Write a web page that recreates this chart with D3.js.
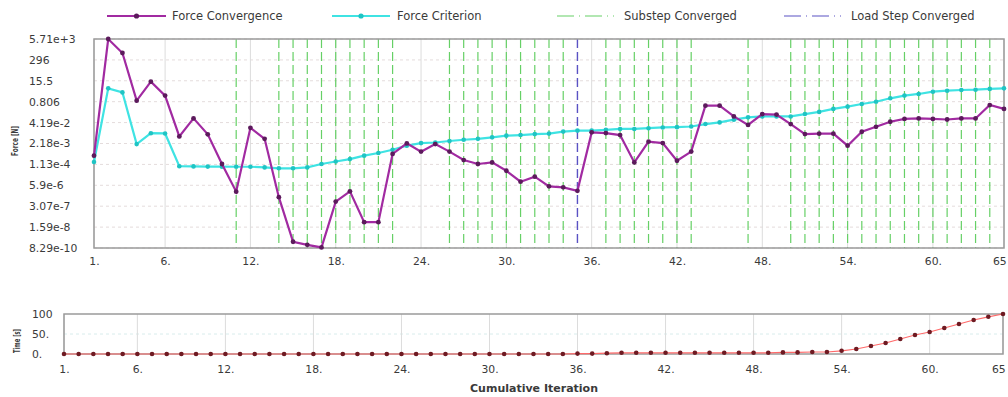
<!DOCTYPE html>
<html>
<head>
<meta charset="utf-8">
<script src="https://cdn.jsdelivr.net/npm/d3@7"></script>
<style>
  html, body { margin: 0; padding: 0; background: #fff; }
  svg { display: block; font-family: "DejaVu Sans", sans-serif; }
</style>
</head>
<body>
<svg id="chart" width="1008" height="397"></svg>
<script>
// Solver convergence history, one entry per cumulative iteration
const iterations = d3.range(1, 66);

const forceConvergence = [
  3.9e-4, 5710, 789, 0.93, 13.7, 1.9, 5.9e-3, 0.076, 8e-3, 1.2e-4,
  2.4e-6, 0.02, 4.2e-3, 1.1e-6, 2e-9, 1.3e-9, 9e-10, 5.9e-7, 2.5e-6, 3.2e-8,
  3.2e-8, 5e-4, 2.2e-3, 6.9e-4, 2e-3, 6.9e-4, 2.1e-4, 1.2e-4, 1.5e-4, 4.6e-5,
  9.8e-6, 2e-5, 5.1e-6, 4.4e-6, 2.7e-6, 1.05e-2, 9.5e-3, 7.2e-3, 1.5e-4, 2.8e-3,
  2.3e-3, 1.9e-4, 6.9e-4, 0.46, 0.46, 0.1, 0.03, 0.14, 0.13, 0.034,
  8.3e-3, 8.7e-3, 8.7e-3, 1.6e-3, 0.0115, 0.023, 0.047, 0.07, 0.075, 0.07,
  0.065, 0.075, 0.075, 0.5, 0.29
];

const forceCriterion = [
  1.6e-4, 5.3, 3, 2e-3, 9.3e-3, 9e-3, 8.7e-5, 8.5e-5, 8.3e-5, 8.2e-5,
  8.1e-5, 8.1e-5, 7.4e-5, 6.5e-5, 6.5e-5, 7.4e-5, 1.2e-4, 1.7e-4, 2.4e-4, 3.9e-4,
  5.7e-4, 9e-4, 1.6e-3, 2.3e-3, 2.5e-3, 3.1e-3, 3.7e-3, 4.2e-3, 5.2e-3, 6.6e-3,
  7.2e-3, 8.2e-3, 8.8e-3, 0.0117, 0.0135, 0.0135, 0.015, 0.017, 0.017, 0.019,
  0.021, 0.022, 0.024, 0.034, 0.043, 0.063, 0.088, 0.1, 0.1, 0.1,
  0.14, 0.19, 0.29, 0.4, 0.58, 0.8, 1.3, 1.9, 2.4, 3.3,
  3.8, 4.2, 4.4, 4.9, 5.3
];

const timeValues = [
  0, 0, 0, 0, 0, 0, 0, 0, 0, 0,
  0, 0, 0, 0, 0, 0, 0, 0, 0, 0,
  0, 0, 0, 0, 0, 0, 0, 0, 0, 0,
  0, 0, 0, 0, 0, 1, 1, 2, 3, 3,
  3, 3, 3, 3, 3, 3, 3, 3, 3, 4,
  4, 5, 5, 8, 12.5, 20, 27.5, 37.5, 47.5, 55,
  65, 75, 85, 93, 100
];

// Iterations where a substep / the load step converged
const substepConverged = [11, 14, 15, 16, 17, 18, 19, 20, 21, 22,
  26, 27, 28, 29, 30, 31, 32, 33, 34, 37, 38, 39, 40, 41, 42, 43, 47,
  50, 51, 52, 53, 54, 55, 56, 57, 58, 59, 60, 61, 62, 63, 64];
const loadStepConverged = [35];

const xTickValues = [1, 6, 12, 18, 24, 30, 36, 42, 48, 54, 60, 65];
const xTickLabels = ["1.", "6.", "12.", "18.", "24.", "30.", "36.", "42.", "48.", "54.", "60.", "65"];

const forceTickValues = [5710, 296, 15.5, 0.806, 4.19e-2, 2.18e-3, 1.13e-4, 5.9e-6, 3.07e-7, 1.59e-8, 8.29e-10];
const forceTickLabels = ["5.71e+3", "296", "15.5", "0.806", "4.19e-2", "2.18e-3", "1.13e-4", "5.9e-6", "3.07e-7", "1.59e-8", "8.29e-10"];

const timeTickValues = [0, 50, 100];
const timeTickLabels = ["0.", "50.", "100"];

const legendItems = ["Force Convergence", "Force Criterion", "Substep Converged", "Load Step Converged"];

// ---------------------------------------------------------------
const svg = d3.select("#chart");
const textColor = "#3a3a3a";
const tickFont = "10.8px";
const convColor = "#a12aa1", convMarker = "#5c1a5c";
const critColor = "#3fe3e3", critMarker = "#1fc4c4";
const subColor = "#66d066", loadColor = "#5a52c4";

// tick labels are left-aligned in a column left of each panel
function styleAxis(a, leftX) {
  a.select(".domain").remove();
  a.selectAll("text").attr("fill", textColor).style("font-size", tickFont)
    .style("font-family", "DejaVu Sans, sans-serif");
  if (leftX !== undefined) {
    a.selectAll(".tick text").attr("text-anchor", "start").attr("x", leftX);
  }
}
// keep the last x label inside the page
function pinLastLabel(a) {
  a.selectAll(".tick text").filter((d, i, n) => i === n.length - 1)
    .attr("text-anchor", "end").attr("dx", "0.2em");
}

// Upper panel: force (log scale)
const upper = { left: 94, right: 1004, top: 39, bottom: 248 };
const x1 = d3.scaleLinear().domain([1, 65]).range([upper.left, upper.right]);
const y1 = d3.scaleLog().domain([8.29e-10, 5710]).range([upper.bottom, upper.top]);

const g1 = svg.append("g");

// horizontal grid
g1.append("g").selectAll("line").data(forceTickValues).join("line")
  .attr("x1", upper.left).attr("x2", upper.right)
  .attr("y1", d => y1(d)).attr("y2", d => y1(d))
  .attr("stroke", "#e4dcdc").attr("stroke-dasharray", "3,3");

// vertical grid
g1.append("g").selectAll("line").data(xTickValues).join("line")
  .attr("x1", d => x1(d)).attr("x2", d => x1(d))
  .attr("y1", upper.top).attr("y2", upper.bottom)
  .attr("stroke", "#dcdcdc");

// substep markers
g1.append("g").selectAll("line").data(substepConverged).join("line")
  .attr("x1", d => x1(d)).attr("x2", d => x1(d))
  .attr("y1", upper.top).attr("y2", upper.bottom)
  .attr("stroke", subColor).attr("stroke-width", 1.2).attr("stroke-dasharray", "9,4");

// load step markers
g1.append("g").selectAll("line").data(loadStepConverged).join("line")
  .attr("x1", d => x1(d)).attr("x2", d => x1(d))
  .attr("y1", upper.top).attr("y2", upper.bottom)
  .attr("stroke", loadColor).attr("stroke-width", 1.4).attr("stroke-dasharray", "9,4");

// frame
g1.append("rect")
  .attr("x", upper.left).attr("y", upper.top)
  .attr("width", upper.right - upper.left).attr("height", upper.bottom - upper.top)
  .attr("fill", "none").attr("stroke", "#9a9a9a").attr("stroke-width", 1.5);

const line1 = d3.line().x((d, i) => x1(iterations[i])).y(d => y1(d));

g1.append("path").datum(forceCriterion)
  .attr("d", line1).attr("fill", "none")
  .attr("stroke", critColor).attr("stroke-width", 2.2);
g1.append("g").selectAll("circle").data(forceCriterion).join("circle")
  .attr("cx", (d, i) => x1(iterations[i])).attr("cy", d => y1(d))
  .attr("r", 2.3).attr("fill", critMarker);

g1.append("path").datum(forceConvergence)
  .attr("d", line1).attr("fill", "none")
  .attr("stroke", convColor).attr("stroke-width", 2.2);
g1.append("g").selectAll("circle").data(forceConvergence).join("circle")
  .attr("cx", (d, i) => x1(iterations[i])).attr("cy", d => y1(d))
  .attr("r", 2.4).attr("fill", convMarker);

// axes
const xAxis1 = d3.axisBottom(x1).tickValues(xTickValues)
  .tickFormat((d, i) => xTickLabels[i]).tickSize(0).tickPadding(9);
const ax1 = g1.append("g").attr("transform", `translate(0,${upper.bottom})`).call(xAxis1);
const yAxis1 = d3.axisLeft(y1).tickValues(forceTickValues)
  .tickFormat((d, i) => forceTickLabels[i]).tickSize(0);
const ay1 = g1.append("g").attr("transform", `translate(${upper.left},0)`).call(yAxis1);
styleAxis(ax1);
styleAxis(ay1, 29 - upper.left);
pinLastLabel(ax1);

g1.append("text")
  .attr("transform", `translate(18,141) rotate(-90)`)
  .attr("text-anchor", "middle").attr("fill", textColor)
  .style("font-size", "8px").style("font-weight", "bold")
  .attr("textLength", 30).attr("lengthAdjust", "spacingAndGlyphs")
  .text("Force [N]");

// Lower panel: time
const lower = { left: 64, right: 1003, top: 314, bottom: 354 };
const x2 = d3.scaleLinear().domain([1, 65]).range([lower.left, lower.right]);
const y2 = d3.scaleLinear().domain([0, 100]).range([lower.bottom, lower.top]);
const g2 = svg.append("g");

g2.append("g").selectAll("line").data([50]).join("line")
  .attr("x1", lower.left).attr("x2", lower.right)
  .attr("y1", d => y2(d)).attr("y2", d => y2(d))
  .attr("stroke", "#d8ecec").attr("stroke-dasharray", "3,3");
g2.append("g").selectAll("line").data(xTickValues).join("line")
  .attr("x1", d => x2(d)).attr("x2", d => x2(d))
  .attr("y1", lower.top).attr("y2", lower.bottom)
  .attr("stroke", "#dcdcdc");
g2.append("rect")
  .attr("x", lower.left).attr("y", lower.top)
  .attr("width", lower.right - lower.left).attr("height", lower.bottom - lower.top)
  .attr("fill", "none").attr("stroke", "#9a9a9a").attr("stroke-width", 1.5);

const line2 = d3.line().x((d, i) => x2(iterations[i])).y(d => y2(d));
g2.append("path").datum(timeValues)
  .attr("d", line2).attr("fill", "none")
  .attr("stroke", "#ff6a6a").attr("stroke-width", 1.2);
g2.append("g").selectAll("circle").data(timeValues).join("circle")
  .attr("cx", (d, i) => x2(iterations[i])).attr("cy", d => y2(d))
  .attr("r", 2.3).attr("fill", "#6e1a22");

const xAxis2 = d3.axisBottom(x2).tickValues(xTickValues)
  .tickFormat((d, i) => xTickLabels[i]).tickSize(0).tickPadding(11);
const ax2 = g2.append("g").attr("transform", `translate(0,${lower.bottom})`).call(xAxis2);
const yAxis2 = d3.axisLeft(y2).tickValues(timeTickValues)
  .tickFormat((d, i) => timeTickLabels[i]).tickSize(0);
const ay2 = g2.append("g").attr("transform", `translate(${lower.left},0)`).call(yAxis2);
styleAxis(ax2);
styleAxis(ay2, 32 - lower.left);
pinLastLabel(ax2);

g2.append("text")
  .attr("transform", `translate(20,341) rotate(-90)`)
  .attr("text-anchor", "middle").attr("fill", textColor)
  .style("font-size", "8px").style("font-weight", "bold")
  .attr("textLength", 24).attr("lengthAdjust", "spacingAndGlyphs")
  .text("Time [s]");

g2.append("text")
  .attr("x", 534).attr("y", 392).attr("text-anchor", "middle")
  .attr("fill", textColor).style("font-size", "11px").style("font-weight", "bold")
  .text("Cumulative Iteration");

// Legend
const legend = svg.append("g").attr("transform", "translate(0,16)");
const legendPos = [
  { x0: 107, x1: 166, tx: 172, color: convColor, dash: null, marker: convMarker },
  { x0: 332, x1: 390, tx: 397, color: critColor, dash: null, marker: critMarker },
  { x0: 557, x1: 614, tx: 624, color: subColor, dash: "17,5,1,5", marker: null },
  { x0: 784, x1: 841, tx: 851, color: loadColor, dash: "17,5,1,5", marker: null }
];
legendPos.forEach((p, i) => {
  const gi = legend.append("g");
  gi.append("line").attr("x1", p.x0).attr("x2", p.x1).attr("y1", 0).attr("y2", 0)
    .attr("stroke", p.color).attr("stroke-width", p.dash ? 1.2 : 2)
    .attr("stroke-dasharray", p.dash);
  if (p.marker) {
    gi.append("circle").attr("cx", (p.x0 + p.x1) / 2).attr("cy", 0).attr("r", 2.6).attr("fill", p.marker);
  }
  gi.append("text").attr("x", p.tx).attr("y", 4).attr("fill", textColor)
    .style("font-size", "11.5px").text(legendItems[i]);
});
</script>
</body>
</html>
